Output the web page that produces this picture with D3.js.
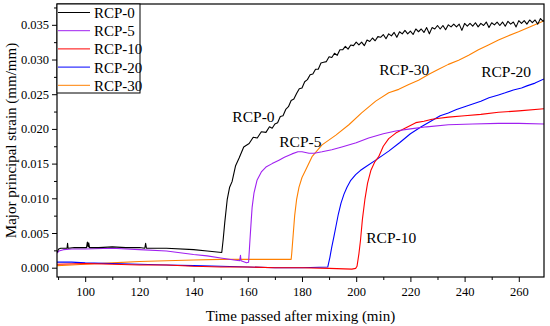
<!DOCTYPE html>
<html>
<head>
<meta charset="utf-8">
<script src="https://d3js.org/d3.v7.min.js"></script>
<style>
body { margin: 0; background: #fff; }
svg { display: block; }
text { font-family: "Liberation Serif", "Times New Roman", serif; fill: #000; }
</style>
</head>
<body>
<svg id="chart" width="550" height="326"></svg>
<script>
// [time (min), strain (mm/mm)]
var rcp0 = [
	[89.6,0.0022],[90.2,0.0027],[91,0.0028],[93.3,0.0028],[93.5,0.0035],[93.7,0.0028],[96,0.0029],
	[100.5,0.0029],[100.8,0.0037],[101.1,0.0030],[101.3,0.0036],[101.6,0.0029],[105,0.0029],[110,0.0030],
	[115,0.0029],[120,0.0029],[122,0.0028],[122.3,0.0035],[122.6,0.0028],[130,0.0028],[140,0.0026],
	[145,0.0024],[150.4,0.0022],[150.9,0.0040],[151.5,0.0065],[152.4,0.0098],[153.3,0.0116],[154.2,0.0124],
	[155.5,0.0147],[156.8,0.0158],[158.5,0.0174],[160.5,0.0179],[162,0.0188],[163.5,0.0187],[165,0.0196],
	[166.7,0.0195],[168,0.0203],[169,0.0201],
	[170,0.0207],[171,0.0209],[172,0.0218],[173,0.0219],[174,0.0228],[175,0.0232],[176,0.0241],[177,0.0243],
	[178,0.0251],[179,0.0258],[180,0.0259],[181,0.0268],[182,0.0271],[183,0.0278],[184,0.0279],[185,0.0286],
	[186,0.0286],[187,0.0295],[188,0.0296],[189,0.0297],[190,0.0304],[191,0.0303],[192,0.0309],[193,0.0306],
	[194,0.0314],[195,0.0314],[196,0.0319],[197,0.0315],[198,0.0321],[199,0.0320],[200,0.0325],[201,0.0321],
	[202,0.0325],[203,0.0320],[204,0.0328],[205,0.0326],[206,0.0331],[207,0.0327],[208,0.0333],[209,0.0332],
	[210,0.0336],[211,0.0330],[212,0.0337],[213,0.0334],[214,0.0339],[215,0.0332],[216,0.0340],[217,0.0337],
	[218,0.0342],[219,0.0337],[220,0.0341],[221,0.0336],[222,0.0344],[223,0.0340],[224,0.0344],[225,0.0339],
	[226,0.0346],[227,0.0337],[228,0.0346],[229,0.0344],[230,0.0349],[231,0.0344],[232,0.0349],[233,0.0343],
	[234,0.0350],[235,0.0347],[236,0.0351],[237,0.0347],[238,0.0351],[239,0.0342],[240,0.0352],[241,0.0348],
	[242,0.0352],[243,0.0348],[244,0.0353],[245,0.0347],[246,0.0352],[247,0.0349],[248,0.0354],[249,0.0346],
	[250,0.0353],[251,0.0350],[252,0.0354],[253,0.0349],[254,0.0354],[255,0.0348],[256,0.0355],[257,0.0351],
	[258,0.0354],[259,0.0347],[260,0.0356],[261,0.0352],[262,0.0356],[263,0.0351],[264,0.0357],[265,0.0353],
	[266,0.0357],[267,0.0351],[268,0.0359],[269,0.0355],[269.3,0.0357]
];
var rcp5 = [
	[89.6,0.0021],[90.3,0.0024],[92,0.0026],[95,0.0027],[100,0.0027],[110,0.0028],[120,0.0026],[130,0.0024],
	[140,0.0019],[145,0.0017],[150,0.0014],[155,0.0011],[157,0.0010],[157.3,0.0018],[157.5,0.0010],
	[159.5,0.0007],[160.3,0.0008],[160.8,0.0040],[161.3,0.0070],[161.6,0.0087],[162.3,0.0108],[163.4,0.0126],
	[165,0.0138],[166.7,0.0145],[169,0.0150],[171.5,0.0155],[173.5,0.0159],[176.3,0.0164],[178.5,0.0167],
	[180,0.0167],[182.6,0.0165],[184.5,0.0165],[187.4,0.0167],[191,0.0170],[194.7,0.0174],[200,0.0180],
	[204.6,0.0187],[210,0.0193],[214.6,0.0197],[220,0.0200],[226,0.0203],[234,0.0206],[243,0.0207],
	[252.5,0.0208],[260,0.0208],[269.3,0.0207]
];
var rcp10 = [
	[89.6,0.0005],[100,0.0006],[110,0.0005],[120,0.0004],[130,0.0004],[140,0.0002],[150,0.0001],[160,0.0001],
	[170,0.0000],[180,0.0000],[190,-0.0001],[198.4,-0.0002],[199.8,-0.0001],[200.3,0.0002],[201,0.0020],
	[201.6,0.0040],[202.3,0.0070],[203.2,0.0098],[204.2,0.0122],[205.4,0.0140],[206.8,0.0152],[208.3,0.0160],
	[210,0.0175],[212,0.0186],[214.6,0.0194],[218,0.0201],[220,0.0205],[222,0.0209],[225,0.0211],[228,0.0214],
	[230,0.0215],[234,0.0217],[240,0.0219],[246,0.0221],[252.5,0.0224],[260,0.0226],[269.3,0.0229]
];
var rcp20 = [
	[89.6,0.0008],[95,0.0008],[100,0.0007],[110,0.0006],[120,0.0005],[130,0.0004],[140,0.0003],[150,0.0002],
	[160,0.0001],[170,0.0000],[180,0.0000],[189.5,0.0001],[190.3,0.0015],[191,0.0030],[191.8,0.0045],
	[192.5,0.0059],[193.4,0.0077],[194.4,0.0093],[195.5,0.0106],[196.6,0.0116],[198,0.0126],[199.8,0.0134],
	[201.5,0.0140],[203.4,0.0145],[207.2,0.0155],[212,0.0168],[216,0.0180],[220,0.0193],[224,0.0203],
	[228,0.0212],[231,0.0219],[234,0.0223],[237,0.0228],[240,0.0232],[243,0.0236],[246,0.0240],[249,0.0245],
	[252.5,0.0249],[255,0.0252],[258,0.0256],[261,0.0259],[263,0.0262],[266,0.0266],[269.3,0.0272]
];
var rcp30 = [
	[89.6,0.0003],[95,0.0004],[100,0.0005],[110,0.0007],[120,0.0009],[130,0.0010],[140,0.0011],[150,0.0012],
	[160,0.0012],[170,0.0012],[176,0.0012],[176.2,0.0020],[176.8,0.0050],[177.3,0.0075],[178,0.0098],
	[178.9,0.0116],[180,0.0130],[181.4,0.0141],[183.7,0.0160],[187.4,0.0177],[192.5,0.0191],[197.3,0.0206],
	[202,0.0223],[207.2,0.0240],[212,0.0252],[215.7,0.0257],[219.4,0.0264],[223,0.0270],[227,0.0279],
	[230.4,0.0286],[234,0.0293],[237.8,0.0299],[241.5,0.0306],[245.1,0.0314],[248.8,0.0321],[252.5,0.0328],
	[256,0.0334],[259.9,0.0340],[264,0.0347],[268.3,0.0354],[269.3,0.0356]
];

var series_names = ["RCP-0", "RCP-5", "RCP-10", "RCP-20", "RCP-30"];
var series_values = [rcp0, rcp5, rcp10, rcp20, rcp30];
var series_colors = ["#000000", "#a020f0", "#ff0000", "#0000ff", "#ff8000"];

var x_ticks = [100, 120, 140, 160, 180, 200, 220, 240, 260];
var x_minor_ticks = [90, 110, 130, 150, 170, 190, 210, 230, 250];
var y_ticks = [0, 0.005, 0.010, 0.015, 0.020, 0.025, 0.030, 0.035];
var y_minor_ticks = [0.0025, 0.0075, 0.0125, 0.0175, 0.0225, 0.0275, 0.0325, 0.0375];

// in-plot curve names, anchored in data units [time, strain]
var curve_labels = [
	["RCP-0", 154.3, 0.0210],
	["RCP-5", 171.6, 0.0174],
	["RCP-30", 208.5, 0.0278],
	["RCP-20", 246.1, 0.0275],
	["RCP-10", 203.7, 0.0036]
];

var plot = {left: 57, right: 544, top: 4, bottom: 277};

var svg = d3.select("#chart");

var x = d3.scaleLinear().domain([89.6, 269.3]).range([plot.left, plot.right]);
var y = d3.scaleLinear().domain([-0.00134, 0.0380]).range([plot.bottom, plot.top]);

svg.append("defs").append("clipPath").attr("id", "plot_clip")
	.append("rect")
	.attr("x", plot.left)
	.attr("y", plot.top)
	.attr("width", plot.right - plot.left)
	.attr("height", plot.bottom - plot.top);

draw_axes();
draw_lines();
draw_frame();
draw_legend();
draw_labels();

function style_axis(g){
	g.select(".domain").remove();
	g.selectAll(".tick line").attr("stroke", "#000").attr("stroke-width", 1);
	g.selectAll(".tick text").style("font-size", "12.5px").attr("fill", "#000");
}

function draw_axes(){
	svg.append("g")
		.attr("transform", "translate(0," + plot.bottom + ")")
		.call(d3.axisBottom(x).tickValues(x_ticks).tickSize(5).tickPadding(5).tickFormat(d3.format("d")))
		.call(style_axis);
	svg.append("g")
		.attr("transform", "translate(0," + plot.bottom + ")")
		.call(d3.axisBottom(x).tickValues(x_minor_ticks).tickSize(3).tickFormat(""))
		.call(style_axis);

	svg.append("g")
		.attr("transform", "translate(" + plot.left + ",0)")
		.call(d3.axisLeft(y).tickValues(y_ticks).tickSize(5).tickPadding(3).tickFormat(d3.format(".3f")))
		.call(style_axis);
	svg.append("g")
		.attr("transform", "translate(" + plot.left + ",0)")
		.call(d3.axisLeft(y).tickValues(y_minor_ticks).tickSize(3).tickFormat(""))
		.call(style_axis);

	svg.append("text")
		.attr("x", (plot.left + plot.right) / 2)
		.attr("y", 321)
		.attr("text-anchor", "middle")
		.style("font-size", "15px")
		.text("Time passed after mixing (min)");

	svg.append("text")
		.attr("transform", "translate(16," + ((plot.top + plot.bottom) / 2) + ") rotate(-90)")
		.attr("text-anchor", "middle")
		.style("font-size", "15px")
		.text("Major principal strain (mm/mm)");
}

function draw_lines(){
	var line = d3.line()
		.x(function(d){ return x(d[0]); })
		.y(function(d){ return y(d[1]); });

	var g = svg.append("g").attr("clip-path", "url(#plot_clip)");
	// draw back to front so black ends on top
	for (var i = series_values.length - 1; i >= 0; i--){
		g.append("path")
			.datum(series_values[i])
			.attr("fill", "none")
			.attr("stroke", series_colors[i])
			.attr("stroke-width", 1.1)
			.attr("stroke-linejoin", "round")
			.attr("d", line);
	}
}

function draw_frame(){
	svg.append("rect")
		.attr("x", plot.left)
		.attr("y", plot.top)
		.attr("width", plot.right - plot.left)
		.attr("height", plot.bottom - plot.top)
		.attr("fill", "none")
		.attr("stroke", "#000")
		.attr("stroke-width", 1.2);
}

function draw_legend(){
	var lg = svg.append("g");
	lg.append("rect")
		.attr("x", plot.left)
		.attr("y", plot.top)
		.attr("width", 83)
		.attr("height", 89)
		.attr("fill", "#fff")
		.attr("stroke", "#000")
		.attr("stroke-width", 1);

	series_names.forEach(function(name, i){
		var cy = 12.5 + i * 18.2;
		lg.append("line")
			.attr("x1", plot.left + 1)
			.attr("x2", 90)
			.attr("y1", cy)
			.attr("y2", cy)
			.attr("stroke", series_colors[i])
			.attr("stroke-width", 1);
		lg.append("text")
			.attr("x", 94)
			.attr("y", cy + 5.5)
			.style("font-size", "15px")
			.text(name);
	});
}

function draw_labels(){
	svg.append("g").selectAll("text")
		.data(curve_labels)
		.enter().append("text")
		.attr("x", function(d){ return x(d[1]); })
		.attr("y", function(d){ return y(d[2]); })
		.style("font-size", "15.5px")
		.text(function(d){ return d[0]; });
}
</script>
</body>
</html>
